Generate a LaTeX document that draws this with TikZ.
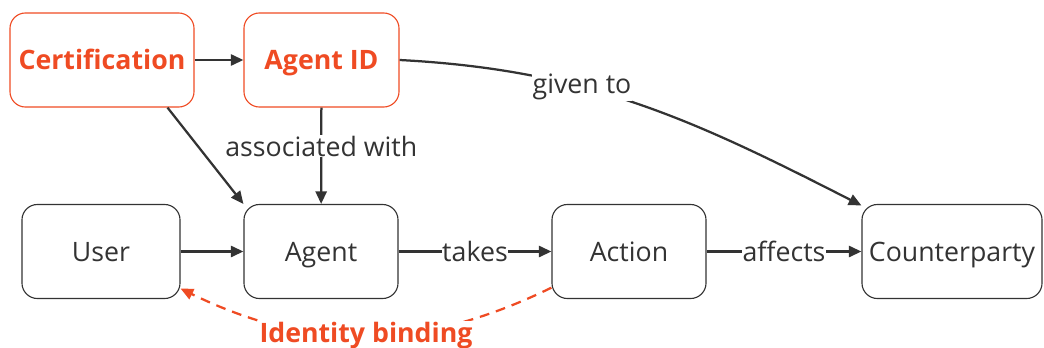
\documentclass[tikz,border=0pt]{standalone}
\usepackage{fontspec}
\setmainfont{Open Sans}
\usepackage{xcolor}
\usepackage{tikz}
\usetikzlibrary{arrows.meta,positioning,calc}
\definecolor{idred}{HTML}{EF4B23}
\definecolor{ink}{HTML}{333333}

\begin{document}
\begin{tikzpicture}[x=0.025cm, y=0.025cm,
  box/.style={draw=ink, line width=0.8pt, rounded corners=11pt, minimum height=2.35cm, text=ink, font=\fontsize{19}{22}\selectfont, inner sep=0pt, text height=13.6pt, text depth=0pt},
  redbox/.style={box, draw=idred, text=idred, font=\fontsize{19}{22}\selectfont\bfseries},
  link/.style={draw=ink, line width=1.6pt, -{Triangle[length=9pt,width=8pt]}},
  lbl/.style={fill=white, text=ink, font=\fontsize{19}{22}\selectfont, inner sep=0.5pt}]
\useasboundingbox (0,0) rectangle (1044,-348);

%top row
\node[redbox, minimum width=4.6cm] (cert) at (102,-60) {Certification};
\node[redbox, minimum width=3.875cm] (agentid) at (321.5,-60) {Agent ID};

%bottom row
\node[box, minimum width=3.95cm] (user) at (101,-251.5) {User};
\node[box, minimum width=3.85cm] (agent) at (321,-251.5) {Agent};
\node[box, minimum width=3.85cm] (action) at (629,-251.5) {Action};
\node[box, minimum width=4.5cm] (cparty) at (952,-251.5) {Counterparty};

%links
\draw[link] (cert) -- (agentid);
\draw[link] (cert.-36) -- (agent.north west);
\draw[link] (agentid) -- node[lbl, pos=0.4] (assoc) {associated with} (agent);
\draw[link] (agentid.east) to[out=-3, in=153] node[lbl, pos=0.37] (given) {given to} (cparty);
\draw[link] (user) -- (agent);
\draw[link] (agent) -- node[lbl] (takes) {takes} (action);
\draw[link] (action) -- node[lbl] (affects) {affects} (cparty);

%identity binding
\draw[idred, line width=1.6pt, dash pattern=on 7pt off 5pt, -{Triangle[length=9pt,width=8pt]}]
  (action.-155) to[out=206, in=-26] node[fill=white, text=idred, inner sep=1pt, font=\fontsize{19}{22}\selectfont\bfseries] (bind) {Identity binding} (user.-25);
\end{tikzpicture}
\end{document}
